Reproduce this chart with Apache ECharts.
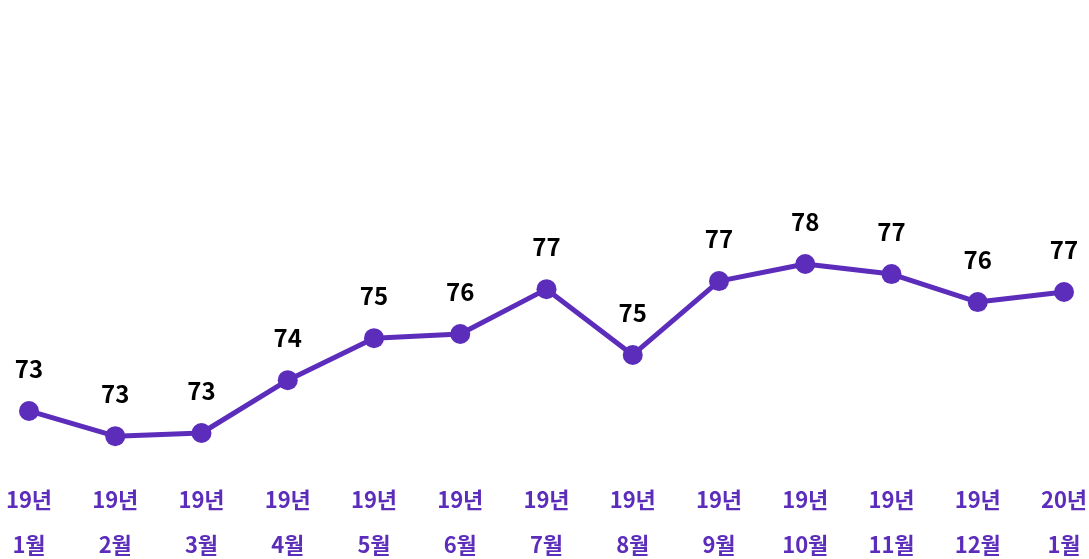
<!DOCTYPE html>
<html>
<head>
<meta charset="utf-8">
<script src="https://cdn.jsdelivr.net/npm/echarts@6/dist/echarts.min.js"></script>
<style>
html,body{margin:0;padding:0;background:#fff;}
#chart{width:1089px;height:559px;}
</style>
</head>
<body>
<div id="chart"></div>
<script>
// 월별 값
var months = ['19년\n1월','19년\n2월','19년\n3월','19년\n4월','19년\n5월','19년\n6월','19년\n7월','19년\n8월','19년\n9월','19년\n10월','19년\n11월','19년\n12월','20년\n1월'];
var values = [73.33, 72.61, 72.7, 74.21, 75.41, 75.53, 76.81, 74.93, 77.04, 77.53, 77.24, 76.44, 76.73];

var purple = '#5c2dbb';
var chart = echarts.init(document.getElementById('chart'));
chart.setOption({
    animation: false,
    grid: {left: 29, right: 25, top: 247.5, bottom: 101.5, outerBoundsMode: 'none', containLabel: false},
    xAxis: {
        type: 'category',
        data: months,
        boundaryGap: false,
        axisLine: {show: false},
        axisTick: {show: false},
        axisLabel: {
            interval: 0,
            margin: 20,
            color: purple,
            fontFamily: 'Noto Sans CJK KR',
            fontWeight: 'bold',
            fontSize: 22,
            lineHeight: 45
        }
    },
    yAxis: {
        type: 'value',
        min: 72,
        max: 78,
        show: false
    },
    series: [{
        type: 'line',
        data: values,
        symbol: 'circle',
        symbolSize: 20,
        lineStyle: {color: purple, width: 5},
        itemStyle: {color: purple},
        label: {
            show: true,
            position: 'top',
            distance: 20,
            color: '#000',
            fontFamily: 'Noto Sans CJK KR',
            fontWeight: 'bold',
            fontSize: 24,
            formatter: function (p) { return Math.round(p.value); }
        }
    }]
});
</script>
</body>
</html>
